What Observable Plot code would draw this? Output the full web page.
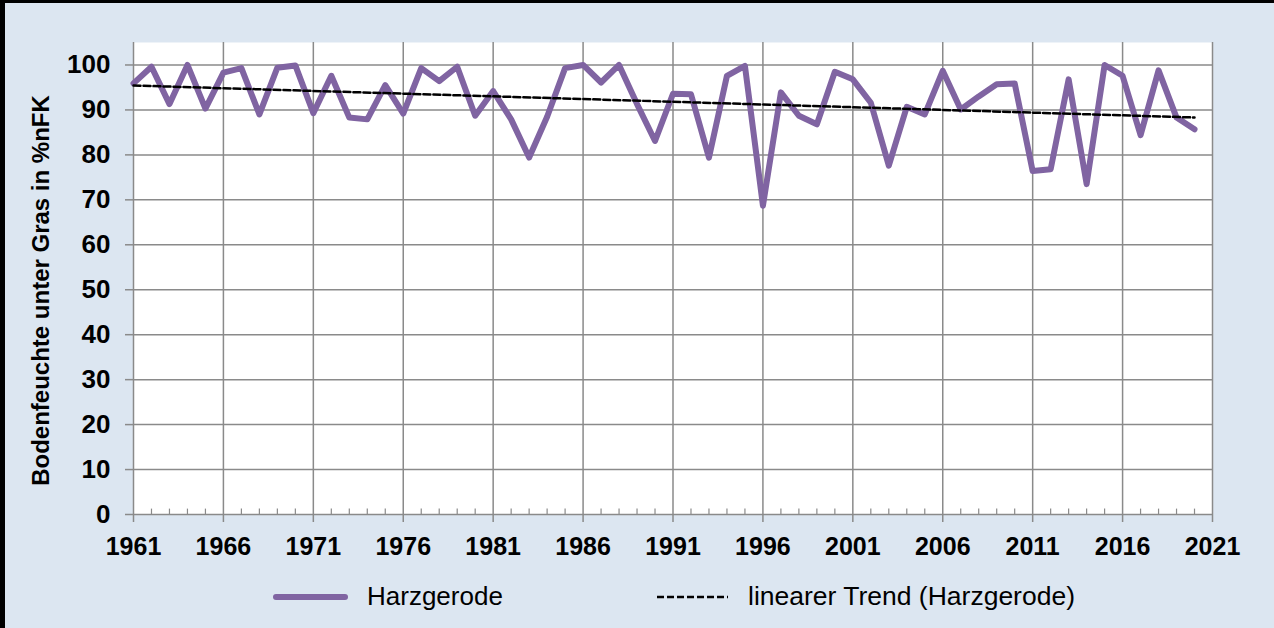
<!DOCTYPE html>
<html>
<head>
<meta charset="utf-8">
<script src="https://cdn.jsdelivr.net/npm/d3@7"></script>
<script src="https://cdn.jsdelivr.net/npm/@observablehq/plot@0.6"></script>
<style>
  body { margin: 0; background: #dce6f1; }
  #wrap { position: relative; width: 1274px; height: 628px; background: #dce6f1; overflow: hidden; font-family: "Liberation Sans", Arial, sans-serif; }
  #borderTop { position: absolute; left: 0; top: 0; width: 1274px; height: 3px; background: #000; }
  #borderLeft { position: absolute; left: 0; top: 0; width: 5px; height: 628px; background: #000; }
  #chart { position: absolute; left: 0; top: 0; }
  #legend { position: absolute; left: 0; top: 560px; }
</style>
</head>
<body>
<div id="wrap">
  <div id="chart"></div>
  <svg id="legend" width="1274" height="68"></svg>
  <div id="borderTop"></div>
  <div id="borderLeft"></div>
</div>
<script>
// ---- data ----
const years = [1961,1962,1963,1964,1965,1966,1967,1968,1969,1970,
               1971,1972,1973,1974,1975,1976,1977,1978,1979,1980,
               1981,1982,1983,1984,1985,1986,1987,1988,1989,1990,
               1991,1992,1993,1994,1995,1996,1997,1998,1999,2000,
               2001,2002,2003,2004,2005,2006,2007,2008,2009,2010,
               2011,2012,2013,2014,2015,2016,2017,2018,2019,2020];
const harzgerode = [95.9,99.6,91.3,100.0,90.3,98.3,99.3,89.0,99.4,99.9,
                    89.3,97.6,88.3,87.9,95.5,89.2,99.3,96.4,99.6,88.7,
                    94.2,87.9,79.4,88.5,99.3,100.0,96.1,100.0,91.3,83.1,
                    93.6,93.5,79.4,97.6,99.8,68.7,93.9,88.7,86.8,98.5,
                    96.8,91.6,77.6,90.7,89.0,98.7,90.1,93.0,95.7,95.9,
                    76.4,76.8,96.8,73.5,100.0,97.6,84.4,98.8,88.3,85.7];
const xTicks = [1961,1966,1971,1976,1981,1986,1991,1996,2001,2006,2011,2016,2021];
const yTicks = [0,10,20,30,40,50,60,70,80,90,100];
const seriesName = "Harzgerode";
const trendName = "linearer Trend (Harzgerode)";
const yTitle = "Bodenfeuchte unter Gras in %nFK";

const rows = years.map((year, i) => ({year, value: harzgerode[i]}));
const minorTicks = years.filter(y => !xTicks.includes(y));

const gridColor = "#8a8a8a";
const purple = "#8064a2";

const chart = Plot.plot({
  width: 1274,
  height: 560,
  marginLeft: 133,
  marginRight: 62,
  marginTop: 42,
  marginBottom: 46,
  style: {background: "transparent", fontFamily: "'Liberation Sans', Arial, sans-serif", color: "#000"},
  x: {domain: [1961, 2021]},
  y: {domain: [0, 105]},
  marks: [
    Plot.frame({fill: "white", stroke: null}),
    Plot.gridY({ticks: yTicks.filter(v => v > 0), stroke: gridColor, strokeOpacity: 1, strokeWidth: 1.5}),
    Plot.gridX({ticks: xTicks, stroke: gridColor, strokeOpacity: 1, strokeWidth: 1.5}),
    Plot.ruleY([0], {stroke: gridColor, strokeWidth: 1.5}),
    Plot.ruleX(minorTicks, {x: d => d, y1: 0, y2: 1.2, stroke: gridColor, strokeWidth: 1.2}),
    Plot.axisY({ticks: yTicks, tickSize: 8, tickPadding: 15, fontSize: 26, fontWeight: "bold",
                stroke: gridColor, strokeWidth: 1.5, fill: "#000", label: null}),
    Plot.axisX({ticks: xTicks, tickSize: 8, tickPadding: 15, tickFormat: "d", fontSize: 25, fontWeight: "bold",
                stroke: gridColor, strokeWidth: 1.5, fill: "#000", label: null}),
    Plot.text([yTitle], {text: d => d, frameAnchor: "left", rotate: -90, dx: -92, dy: 12,
                         fontSize: 24, fontWeight: "bold", fill: "#000", textAnchor: "middle"}),
    Plot.line(rows, {x: "year", y: "value", stroke: purple, strokeWidth: 6,
                     strokeLinejoin: "round", strokeLinecap: "round"}),
    Plot.linearRegressionY(rows, {x: "year", y: "value", ci: 0, stroke: "#000",
                                  strokeWidth: 2.5, strokeDasharray: "7,3"})
  ]
});
document.getElementById("chart").appendChild(chart);

// ---- legend ----
const leg = d3.select("#legend");
leg.append("line").attr("x1", 276).attr("x2", 345).attr("y1", 37).attr("y2", 37)
  .attr("stroke", purple).attr("stroke-width", 6).attr("stroke-linecap", "round");
leg.append("text").attr("x", 367).attr("y", 45).attr("font-size", 26)
  .attr("font-family", "'Liberation Sans', Arial, sans-serif").attr("fill", "#000").text(seriesName);
leg.append("line").attr("x1", 657).attr("x2", 728).attr("y1", 37).attr("y2", 37)
  .attr("stroke", "#000").attr("stroke-width", 2.5).attr("stroke-dasharray", "7,3");
leg.append("text").attr("x", 748).attr("y", 45).attr("font-size", 26.5)
  .attr("font-family", "'Liberation Sans', Arial, sans-serif").attr("fill", "#000").text(trendName);
</script>
</body>
</html>
